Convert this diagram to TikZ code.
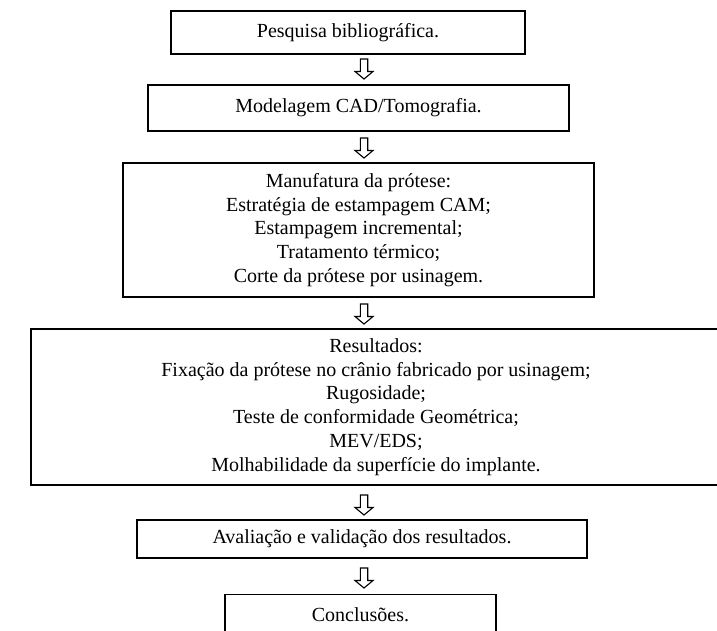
\documentclass[tikz,border=0pt]{standalone}
\usepackage{fontspec}
\setmainfont{Liberation Serif}
\usetikzlibrary{positioning}
\tikzset{
  caixa/.style={draw, line width=1.3pt, align=center, inner sep=0pt,
    font=\fontsize{20}{23.8}\selectfont},
  setabloco/.pic={
    \draw[line width=1.1pt, fill=white, line join=miter]
      (-3.7,-10) -- (3.7,-10) -- (3.7,2.5) -- (9,2.5) -- (0,10)
      -- (-9,2.5) -- (-3.7,2.5) -- cycle;
  }
}
\begin{document}
\begin{tikzpicture}[x=1pt,y=-1pt]
  \useasboundingbox (0,0) rectangle (717,630);
  \clip (0,0) rectangle (717,630);

  \node[caixa, minimum width=354pt, minimum height=43pt] (pesquisa) at (348,32.5)
    {Pesquisa bibliográfica.};
  \node[caixa, minimum width=421pt, minimum height=46pt] (modelagem) at (358.5,108)
    {Modelagem CAD/Tomografia.};
  \node[caixa, minimum width=471pt, minimum height=134pt] (manufatura) at (358.5,230)
    {Manufatura da prótese:\\ Estratégia de estampagem CAM;\\ Estampagem incremental;\\
     Tratamento térmico;\\ Corte da prótese por usinagem.};
  \node[caixa, minimum width=690pt, minimum height=156pt] (resultados) at (376,407)
    {Resultados:\\ Fixação da prótese no crânio fabricado por usinagem;\\ Rugosidade;\\
     Teste de conformidade Geométrica;\\ MEV/EDS;\\ Molhabilidade da superfície do implante.};
  \node[caixa, minimum width=450pt, minimum height=38pt] (avaliacao) at (362,539)
    {Avaliação e validação dos resultados.};
  \node[caixa, minimum width=271pt, minimum height=40pt, anchor=north] (conclusoes) at (360.5,594)
    {Conclusões.};

  % setas entre as etapas
  \pic at (364,69) {setabloco};
  \pic at (364,148) {setabloco};
  \pic at (364,314) {setabloco};
  \pic at (364,505) {setabloco};
  \pic at (364,578) {setabloco};
\end{tikzpicture}
\end{document}
